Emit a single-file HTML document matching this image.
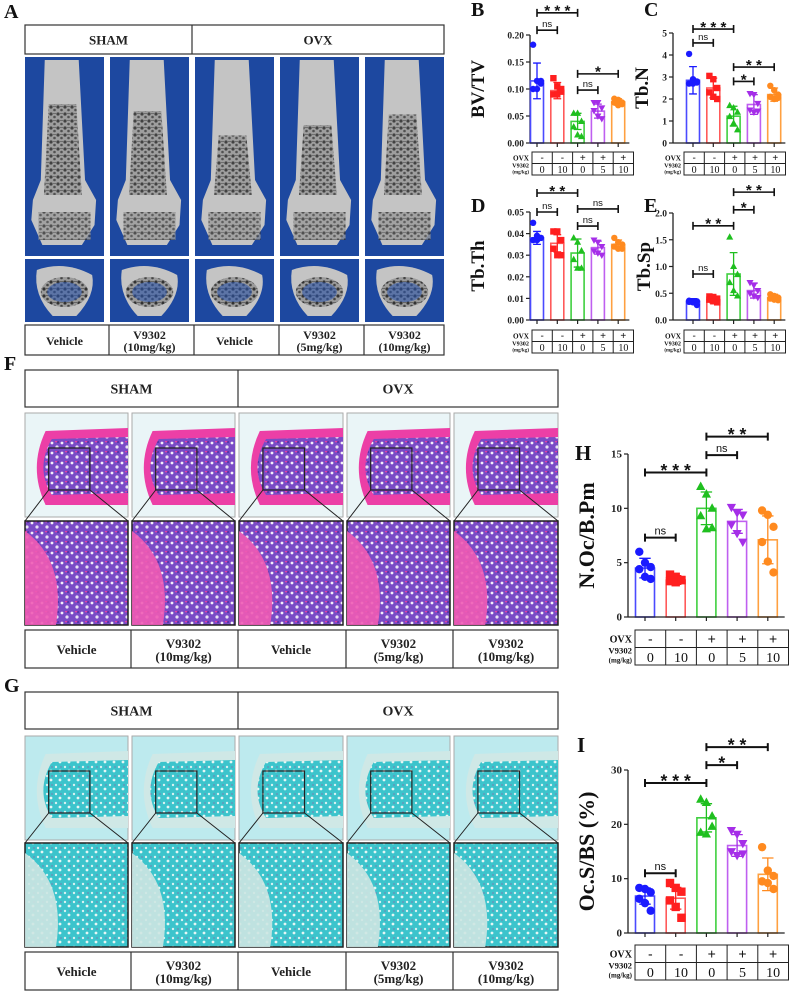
<!DOCTYPE html>
<html><head><meta charset="utf-8">
<style>
html,body{margin:0;padding:0;background:#fff;}
svg{display:block;font-family:"Liberation Serif",serif;}
</style></head>
<body>
<svg id="fig" width="790" height="992" viewBox="0 0 790 992" xmlns="http://www.w3.org/2000/svg">
<defs>
 <pattern id="boneTex" width="7" height="7" patternUnits="userSpaceOnUse">
  <rect width="7" height="7" fill="#9a9a9a"/><circle cx="2" cy="2" r="1.6" fill="#333"/><circle cx="5.5" cy="5" r="1.3" fill="#444"/><rect x="4" y="1" width="3" height="1" fill="#666"/>
 </pattern>
 <pattern id="heTex" width="10" height="10" patternUnits="userSpaceOnUse">
  <rect width="10" height="10" fill="#7a4bc6"/><circle cx="2" cy="3" r="1.4" fill="#f4eef8"/><circle cx="7" cy="7" r="1.6" fill="#e8e0f4"/><rect x="5" y="1" width="3" height="1.3" fill="#e23fa8"/><circle cx="8" cy="2" r="0.9" fill="#3b2a9a"/>
 </pattern>
 <pattern id="trapTex" width="9" height="9" patternUnits="userSpaceOnUse">
  <rect width="9" height="9" fill="#3cc4cc"/><circle cx="2" cy="2" r="1.2" fill="#d8f2f2"/><circle cx="6" cy="6" r="1.4" fill="#e6f6f4"/><circle cx="7" cy="2" r="0.6" fill="#9c4ca0"/>
 </pattern>
</defs>
<g id="left"></g>
<g id="charts"></g>
</svg>
<script>
// ===== chart data =====
const groupLabels = ["SHAM-Vehicle","SHAM-V9302-10","OVX-Vehicle","OVX-V9302-5","OVX-V9302-10"];
const ovxRow = ["-","-","+","+","+"];
const doseRow = ["0","10","0","5","10"];

const bvtvMeans = [0.115,0.097,0.040,0.059,0.076];
const bvtvSD = [0.033,0.015,0.015,0.013,0.006];
const bvtvPoints = [[0.182,0.115,0.11,0.10,0.10,0.115],[0.12,0.105,0.095,0.09,0.09,0.1],[0.055,0.055,0.04,0.03,0.015,0.012],[0.075,0.075,0.065,0.06,0.05,0.045],[0.082,0.08,0.075,0.075,0.07,0.072]];
const bvtvTicks = ["0.00","0.05","0.10","0.15","0.20"];
const bvtvSig = [[0,1,0.209,"ns"],[0,2,0.241,"***"],[2,3,0.098,"ns"],[2,4,0.128,"*"]];

const tbnMeans = [2.85,2.5,1.22,1.75,2.2];
const tbnSD = [0.62,0.45,0.45,0.45,0.3];
const tbnPoints = [[4.05,2.9,2.8,2.7,2.7,2.75],[3.05,2.9,2.5,2.3,2.1,2.0],[1.7,1.6,1.4,1.2,0.9,0.6],[2.25,2.2,1.8,1.5,1.4,1.45],[2.6,2.4,2.2,2.1,2.0,2.05]];
const tbnTicks = ["0","1","2","3","4","5"];
const tbnSig = [[0,1,4.55,"ns"],[0,2,5.18,"***"],[2,3,2.8,"*"],[2,4,3.45,"**"]];

const tbthMeans = [0.038,0.0355,0.031,0.0335,0.035];
const tbthSD = [0.003,0.004,0.0065,0.003,0.002];
const tbthPoints = [[0.045,0.039,0.038,0.037,0.037,0.038],[0.041,0.041,0.037,0.033,0.03,0.03],[0.038,0.036,0.032,0.028,0.024,0.024],[0.037,0.036,0.034,0.032,0.031,0.03],[0.038,0.036,0.035,0.034,0.033,0.033]];
const tbthTicks = ["0.00","0.01","0.02","0.03","0.04","0.05"];
const tbthSig = [[0,1,0.050,"ns"],[0,2,0.0588,"**"],[2,3,0.0435,"ns"],[2,4,0.0514,"ns"]];

const tbspMeans = [0.35,0.38,0.86,0.55,0.42];
const tbspSD = [0.05,0.06,0.40,0.14,0.06];
const tbspPoints = [[0.36,0.35,0.35,0.34,0.33,0.28],[0.44,0.43,0.4,0.38,0.35,0.33],[1.55,1.0,0.85,0.7,0.55,0.45],[0.7,0.65,0.55,0.5,0.45,0.42],[0.48,0.45,0.42,0.4,0.38,0.37]];
const tbspTicks = ["0.0","0.5","1.0","1.5","2.0"];
const tbspSig = [[0,1,0.86,"ns"],[0,2,1.76,"**"],[2,3,2.06,"*"],[2,4,2.39,"**"]];

const nocMeans = [4.5,3.4,10,8.8,7.1];
const nocSD = [0.9,0.4,1.5,1.1,2.2];
const nocPoints = [[6.0,5.0,4.6,4.4,3.7,3.5],[3.9,3.7,3.4,3.3,3.2,3.4],[12,11.3,10,9.3,8.1,8.2],[10.1,9.6,9.4,8.5,7.7,6.9],[9.8,9.4,8.3,6.9,5.1,4.1]];
const nocTicks = ["0","5","10","15"];
const nocSig = [[0,1,7.3,"ns"],[0,2,13.3,"***"],[2,3,14.9,"ns"],[2,4,16.6,"**"]];

const ocsMeans = [6.8,6.4,21.2,16.1,10.8];
const ocsSD = [1.5,2.0,2.6,2.0,3.0];
const ocsPoints = [[8.3,8.1,7.5,6.3,5.5,4.1],[9.2,8.3,7.6,6,4.8,2.8],[24.6,24,21.5,18.5,18.2,19.6],[18.9,18.2,16.5,15,14.3,14.6],[15.8,11.5,10.5,9.5,9.2,8.1]];
const ocsTicks = ["0","10","20","30"];
const ocsSig = [[0,1,11,"ns"],[0,2,27.6,"***"],[2,3,30.9,"*"],[2,4,34.2,"**"]];

const NS = "http://www.w3.org/2000/svg";
const markerColors = ["#1a1aff","#ff1f1f","#1fbf1f","#a52ee8","#ff8a1f"];
const barColors = ["#4a4aff","#ff5a5a","#3fcf3f","#bf5ff0","#ffa040"];
const shapes = ["circle","square","tri","tridown","circle"];
const jitter = [-0.3,0,0.3,-0.3,0,0.3];

function mk(tag, parent, attrs){
  const el = document.createElementNS(NS, tag);
  for (const k in attrs) el.setAttribute(k, attrs[k]);
  parent.appendChild(el);
  return el;
}
function txt(parent, x, y, s, attrs){
  const t = mk("text", parent, Object.assign({x:x, y:y}, attrs||{}));
  t.textContent = s;
  return t;
}

function drawChart(cfg){
  const root = document.getElementById("charts");
  const g = mk("g", root, {});
  
  
  const yS = v => cfg.y0 - v / cfg.max * (cfg.y0 - cfg.yTop);
  const xS = i => cfg.x0 + cfg.first + i * cfg.step;
  const L = txt(g, cfg.letterX, cfg.letterY, cfg.letter, {"font-size":cfg.letterSize||20,"font-weight":"bold",fill:"#111"});
  
  
  const ax = mk("line", g, {x1:cfg.x0,y1:cfg.yTop,x2:cfg.x0,y2:cfg.y0,stroke:"#222","stroke-width":1.3});
  
  
  const n = cfg.ticks.length;
  cfg.ticks.forEach((t,k)=>{
    const v = cfg.max * k/(n-1);
    const yy = yS(v);
    mk("line", g, {x1:cfg.x0-4,y1:yy,x2:cfg.x0,y2:yy,stroke:"#222","stroke-width":1.2});
    const tl = txt(g, cfg.x0-6, yy+3.5, t, {"font-size":cfg.tickSize,"font-weight":"bold","text-anchor":"end",fill:"#222"});
    
    
  });
  const yt = txt(g, 0, 0, cfg.title, {"font-size":cfg.titleSize,"font-weight":"bold","text-anchor":"middle",fill:"#111",transform:`translate(${cfg.titleX},${(cfg.y0+cfg.yTop)/2}) rotate(-90)`});
  
  
  cfg.means.forEach((m,i)=>{
    const cx = xS(i);
    const bw = cfg.bw;
    const b = mk("rect", g, {x:cx-bw/2,y:yS(m),width:bw,height:cfg.y0-yS(m),fill:"none",stroke:barColors[i],"stroke-width":1.6});
    
    
    const sd = cfg.sd[i];
    const e = mk("path", g, {d:`M${cx},${yS(m-sd)}V${yS(m+sd)}M${cx-bw*0.3},${yS(m+sd)}H${cx+bw*0.3}M${cx-bw*0.3},${yS(m-sd)}H${cx+bw*0.3}`,stroke:markerColors[i],"stroke-width":1.3,fill:"none"});
    
    
    cfg.points[i].forEach((v,j)=>{
      const px = cx + jitter[j]*bw;
      const py = yS(v);
      const r = cfg.r;
      let p;
      if (shapes[i]==="circle") p = mk("circle", g, {cx:px,cy:py,r:r,fill:markerColors[i]});
      else if (shapes[i]==="square") p = mk("rect", g, {x:px-r,y:py-r,width:2*r,height:2*r,fill:markerColors[i]});
      else if (shapes[i]==="tri") p = mk("path", g, {d:`M${px},${py-r*1.2}L${px+r*1.1},${py+r*0.8}L${px-r*1.1},${py+r*0.8}Z`,fill:markerColors[i]});
      else p = mk("path", g, {d:`M${px},${py+r*1.2}L${px+r*1.1},${py-r*0.8}L${px-r*1.1},${py-r*0.8}Z`,fill:markerColors[i]});
      
      
    });
    mk("line", g, {x1:cx,y1:cfg.y0,x2:cx,y2:cfg.y0+4,stroke:"#222","stroke-width":1.2});
  });
  const xa = mk("line", g, {x1:cfg.x0,y1:cfg.y0,x2:xS(4)+cfg.step*0.55,y2:cfg.y0,stroke:"#222","stroke-width":1.3});
  
  
  cfg.sig.forEach(s=>{
    const yy = yS(s[2]);
    const xa1 = xS(s[0]), xb = xS(s[1]);
    const br = mk("path", g, {d:`M${xa1},${yy-4}V${yy+4}M${xa1},${yy}H${xb}M${xb},${yy-4}V${yy+4}`,stroke:"#111","stroke-width":cfg.sigW,fill:"none"});
    
    
    const isNs = s[3]==="ns";
    const st = txt(g, (xa1+xb)/2, isNs ? yy-3 : yy+cfg.sigSize*0.3, isNs ? "ns" : s[3].split("").join(" "), {"font-size":isNs?cfg.sigSize:cfg.sigSize*1.6,"font-weight":isNs?"normal":"bold","text-anchor":"middle",fill:"#111","font-family":"Liberation Sans, sans-serif"});
    
    
  });
  const tx0 = cfg.tabX, ty0 = cfg.tabY, rh = cfg.rowH;
  const tw = cfg.step;
  const tab = mk("g", g, {});
  
  
  mk("rect", tab, {x:tx0,y:ty0,width:tw*5,height:rh*2,fill:"none",stroke:"#222","stroke-width":1});
  mk("line", tab, {x1:tx0,y1:ty0+rh,x2:tx0+tw*5,y2:ty0+rh,stroke:"#222","stroke-width":1});
  for (let i=1;i<5;i++) mk("line", tab, {x1:tx0+tw*i,y1:ty0,x2:tx0+tw*i,y2:ty0+rh*2,stroke:"#222","stroke-width":1});
  ovxRow.forEach((s,i)=>{ txt(tab, tx0+tw*(i+0.5), ty0+rh*0.78, s, {"font-size":cfg.tabSize,"text-anchor":"middle",fill:"#111","font-family":"Liberation Sans, sans-serif"}); });
  doseRow.forEach((s,i)=>{ txt(tab, tx0+tw*(i+0.5), ty0+rh*1.82, s, {"font-size":cfg.tabSize,"text-anchor":"middle",fill:"#111"}); });
  txt(tab, tx0-3, ty0+rh*0.72, "OVX", {"font-size":cfg.tabSize*0.72,"font-weight":"bold","text-anchor":"end",fill:"#111"});
  txt(tab, tx0-3, ty0+rh*1.35, "V9302", {"font-size":cfg.tabSize*0.62,"font-weight":"bold","text-anchor":"end",fill:"#111"});
  txt(tab, tx0-3, ty0+rh*1.85, "(mg/kg)", {"font-size":cfg.tabSize*0.5,"font-weight":"bold","text-anchor":"end",fill:"#111"});
}

const small = {step:20.3, bw:13, r:3.2, tickSize:9.5, titleSize:19, sigSize:9.5, sigW:1.6, rowH:11.5, tabSize:10};
drawChart(Object.assign({},small,{name:"chart-bvtv",letter:"B",letterX:471,letterY:16,x0:530,first:7,y0:143,yTop:35,max:0.20,means:bvtvMeans,sd:bvtvSD,points:bvtvPoints,ticks:bvtvTicks,sig:bvtvSig,title:"BV/TV",titleX:484,tabX:532,tabY:152}));
drawChart(Object.assign({},small,{name:"chart-tbn",letter:"C",letterX:644,letterY:16,x0:673,first:20,y0:143,yTop:33,max:5,means:tbnMeans,sd:tbnSD,points:tbnPoints,ticks:tbnTicks,sig:tbnSig,title:"Tb.N",titleX:648,tabX:684,tabY:152}));
drawChart(Object.assign({},small,{name:"chart-tbth",letter:"D",letterX:471,letterY:212,x0:530,first:7,y0:320,yTop:212,max:0.05,means:tbthMeans,sd:tbthSD,points:tbthPoints,ticks:tbthTicks,sig:tbthSig,title:"Tb.Th",titleX:484,tabX:532,tabY:330}));
drawChart(Object.assign({},small,{name:"chart-tbsp",letter:"E",letterX:644,letterY:212,x0:673,first:20,y0:320,yTop:213,max:2.0,means:tbspMeans,sd:tbspSD,points:tbspPoints,ticks:tbspTicks,sig:tbspSig,title:"Tb.Sp",titleX:650,tabX:684,tabY:330}));
const big = {step:30.7, bw:19, r:4.2, tickSize:11, titleSize:22, sigSize:11, sigW:2, rowH:17.5, tabSize:14, letterSize:21};
drawChart(Object.assign({},big,{name:"chart-noc-bpm",letter:"H",letterX:575,letterY:460,x0:628,first:17,y0:617,yTop:454,max:15,means:nocMeans,sd:nocSD,points:nocPoints,ticks:nocTicks,sig:nocSig,title:"N.Oc/B.Pm",titleX:594,tabX:635,tabY:630}));
drawChart(Object.assign({},big,{name:"chart-ocs-bs",letter:"I",letterX:577,letterY:752,x0:628,first:17,y0:933,yTop:770,max:30,means:ocsMeans,sd:ocsSD,points:ocsPoints,ticks:ocsTicks,sig:ocsSig,title:"Oc.S/BS (%)",titleX:594,tabX:635,tabY:945}));

// ===== left image panels =====
const left = document.getElementById("left");
function box(parent, x, y, w, h){ return mk("rect", parent, {x:x,y:y,width:w,height:h,fill:"#fff",stroke:"#333","stroke-width":1.2}); }
function headerRow(name, x0, x1, split, y, h, size){
  const g = mk("g", left, {});
  
  
  box(g, x0, y, x1-x0, h);
  mk("line", g, {x1:split,y1:y,x2:split,y2:y+h,stroke:"#333","stroke-width":1.2});
  txt(g, (x0+split)/2, y+h/2+5, "SHAM", {"font-size":size,"font-weight":"bold","text-anchor":"middle",fill:"#222"});
  txt(g, (split+x1)/2, y+h/2+5, "OVX", {"font-size":size,"font-weight":"bold","text-anchor":"middle",fill:"#222"});
}
const treatNames = [["Vehicle"],["V9302","(10mg/kg)"],["Vehicle"],["V9302","(5mg/kg)"],["V9302","(10mg/kg)"]];
function labelRow(name, cols, y, h, size){
  const g = mk("g", left, {});
  
  
  box(g, cols[0][0], y, cols[4][1]-cols[0][0], h);
  cols.forEach((c,i)=>{
    if (i>0) mk("line", g, {x1:c[0]-1,y1:y,x2:c[0]-1,y2:y+h,stroke:"#333","stroke-width":1.2});
    const t = treatNames[i];
    const cx = (c[0]+c[1])/2;
    if (t.length===1) txt(g, cx, y+h/2+5, t[0], {"font-size":size,"font-weight":"bold","text-anchor":"middle",fill:"#222"});
    else { txt(g, cx, y+h/2-1, t[0], {"font-size":size,"font-weight":"bold","text-anchor":"middle",fill:"#222"}); txt(g, cx, y+h/2+size-1, t[1], {"font-size":size,"font-weight":"bold","text-anchor":"middle",fill:"#222"}); }
  });
}
txt(left, 4, 18, "A", {"font-size":20,"font-weight":"bold",fill:"#111"});
headerRow("a-group-header", 25, 444, 192, 25, 29, 13);
const aCols = [[25,104],[110,189],[195,274],[280,359],[365,444]];
aCols.forEach((c,i)=>{
  const x=c[0], w=c[1]-c[0];
  const g = mk("g", left, {});
  
  
  mk("rect", g, {x:x,y:57,width:w,height:199,fill:"#1d48a0"});
  const top = 60, bot = 245;
  mk("path", g, {d:`M${x+w*0.25},${top}L${x+w*0.68},${top}L${x+w*0.76},${top+120}L${x+w*0.9},${top+140}L${x+w*0.88},${bot-20}L${x+w*0.72},${bot}L${x+w*0.22},${bot}L${x+w*0.08},${bot-25}L${x+w*0.1},${top+140}L${x+w*0.2},${top+120}Z`,fill:"#c4c4c4"});
  const dens = [0.8,0.7,0.35,0.5,0.65][i];
  mk("path", g, {d:`M${x+w*0.3},${top+30+(1-dens)*70}L${x+w*0.65},${top+30+(1-dens)*70}L${x+w*0.72},${top+135}L${x+w*0.24},${top+135}Z`,fill:"url(#boneTex)",opacity:0.9});
  mk("rect", g, {x:x+w*0.17,y:top+152,width:w*0.66,height:28,fill:"url(#boneTex)",opacity:0.8});
  mk("rect", g, {x:x,y:259,width:w,height:63,fill:"#1d48a0"});
  mk("path", g, {d:`M${x+w*0.15},${270}Q${x+w*0.5},${260} ${x+w*0.85},${275}Q${x+w*0.9},${295} ${x+w*0.65},${316}L${x+w*0.35},${316}Q${x+w*0.1},${295} ${x+w*0.15},${270}Z`,fill:"#c4c4c4"});
  mk("ellipse", g, {cx:x+w*0.5,cy:292,rx:w*0.3,ry:15,fill:"url(#boneTex)"});
  mk("ellipse", g, {cx:x+w*0.5,cy:292,rx:w*0.22,ry:10,fill:"#2a55b0",opacity:0.55});
});
labelRow("a-treatment-labels", aCols, 325, 30, 12);

const fCols = [[25,128],[132,235],[239,343],[347,450],[454,558]];
function histPanel(letter, ly, hy, r1, r2, ly2, kind){
  txt(left, 4, ly, letter, {"font-size":20,"font-weight":"bold",fill:"#111"});
  headerRow(letter.toLowerCase()+"-group-header", 25, 558, 238, hy, 37, 14);
  fCols.forEach((c,i)=>{
    const x=c[0], w=c[1]-c[0], h1=104, h2=104;
    const g = mk("g", left, {});
    
    
    const bg = kind==="he" ? "#eaf5f7" : "#bdeaee";
    const band = kind==="he" ? "#ec3fa6" : "#cfe8e6";
    const tex = kind==="he" ? "url(#heTex)" : "url(#trapTex)";
    mk("rect", g, {x:x,y:r1,width:w,height:h1,fill:bg,stroke:"#aaa","stroke-width":1});
    mk("path", g, {d:`M${x+w*0.2},${r1+18}L${x+w},${r1+15}L${x+w},${r1+92}L${x+w*0.2},${r1+92}Q${x+3},${r1+55} ${x+w*0.2},${r1+18}Z`,fill:band});
    mk("path", g, {d:`M${x+w*0.26},${r1+26}L${x+w},${r1+24}L${x+w},${r1+80}L${x+w*0.26},${r1+82}Q${x+10},${r1+55} ${x+w*0.26},${r1+26}Z`,fill:tex});
    mk("rect", g, {x:x+w*0.23,y:r1+35,width:w*0.4,height:42,fill:"none",stroke:"#222","stroke-width":1.2});
    mk("path", g, {d:`M${x+w*0.23},${r1+77}L${x},${r2}M${x+w*0.63},${r1+77}L${x+w},${r2}`,stroke:"#222","stroke-width":1});
    mk("rect", g, {x:x,y:r2,width:w,height:h2,fill:tex,stroke:"#222","stroke-width":1.5});
    mk("path", g, {d:`M${x},${r2+10}Q${x+w*0.4},${r2+40} ${x+w*0.3},${r2+h2}L${x},${r2+h2}Z`,fill:kind==="he"?"#ef5bb4":"#cde6e2",opacity:0.9});
  });
  labelRow(letter.toLowerCase()+"-treatment-labels", fCols, ly2, 38, 13);
}
histPanel("F", 370, 370, 413, 521, 630, "he");
histPanel("G", 692, 692, 736, 843, 952, "trap");
</script>
</body></html>
